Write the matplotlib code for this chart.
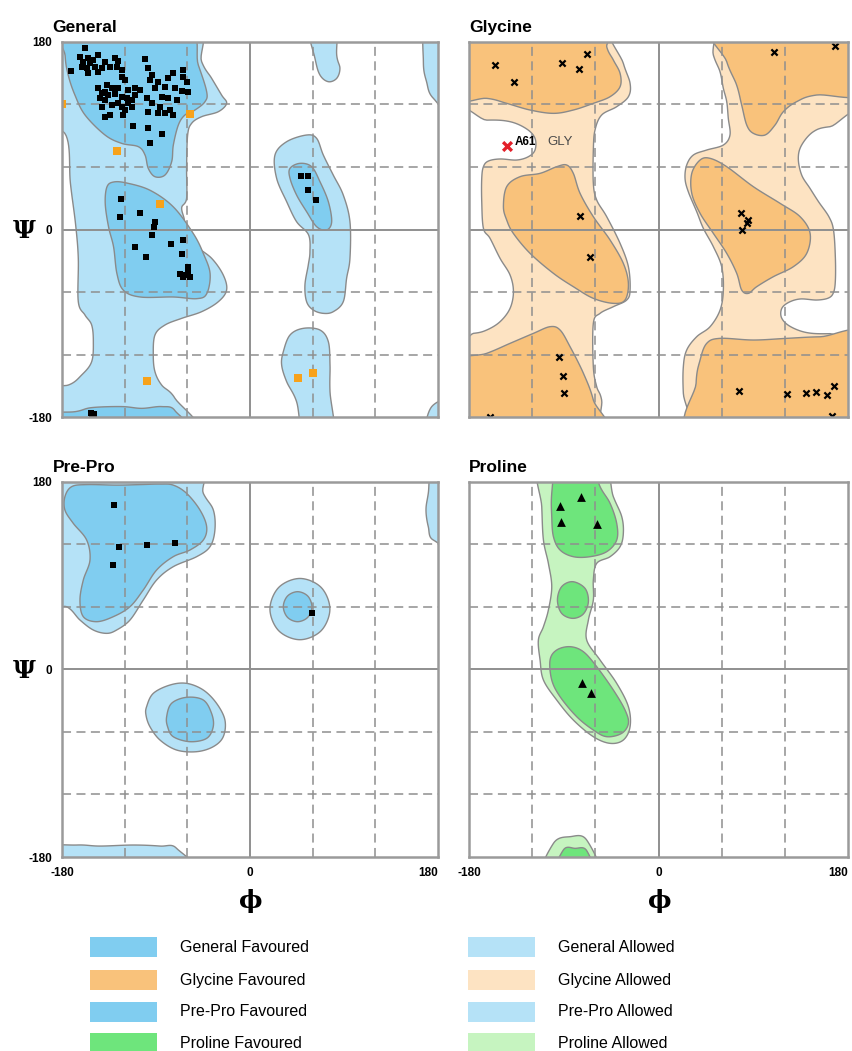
import matplotlib
matplotlib.use("Agg")
import matplotlib.pyplot as plt
import numpy as np
from matplotlib.patches import Polygon, Rectangle

plt.rcParams["font.family"] = ["Liberation Sans", "DejaVu Sans"]

# ---------------------------------------------------------------- colours
GEN_FAV, GEN_ALW = "#80cdf0", "#b5e2f7"
GLY_FAV, GLY_ALW = "#f9c27b", "#fde3c2"
PRO_FAV, PRO_ALW = "#6ee57c", "#c6f4c0"
EDGE = "#8a8a8a"
GRID = "#8f8f8f"

# ---------------------------------------------------------------- residues (phi, psi)
gen_phi = [-158.0, -162.8, -154.8, -145.2, -150.0, -159.6, -153.2, -138.8, -129.3, -126.1,
           -100.5, -161.2, -156.4, -148.4, -142.0, -134.0, -127.7, -122.9, -154.8, -145.2,
           -171.4, -97.4, -63.8, -73.4, -122.9, -119.7, -94.2, -95.8, -78.2, -63.8,
           -87.8, -60.6, -145.2, -137.2, -132.5, -138.8, -126.1, -116.5, -110.1, -105.3,
           -91.0, -81.4, -71.8, -59.1, -65.4, -142.0, -135.6, -129.3, -122.9, -118.1,
           -110.1, -98.9, -84.6, -78.2, -70.2, -143.6, -138.8, -113.3, -142.0, -132.5,
           -122.9, -116.5, -113.3, -86.2, -76.6, -94.2, -119.7, -126.1, -138.8, -134.0,
           -121.3, -97.4, -87.8, -73.4, -81.4, -111.7, -97.4, -84.0, -95.8,
           -123.6, -124.9, -105.1, -86.2, -90.8, -91.8, -94.0, -109.9, -99.7, -75.8,
           -63.7, -65.3, -66.9, -62.1, -58.9, -57.3, -63.7, -58.9,
           48.8, 55.8, 55.8, 63.2, -152.5, -149.0, -151.0]
gen_psi = [173.9, 165.9, 164.3, 167.5, 162.7, 161.1, 159.5, 161.1, 164.3, 161.7,
           163.7, 156.3, 154.7, 156.3, 154.7, 156.3, 156.3, 153.1, 149.9, 151.5,
           152.1, 154.7, 153.1, 149.9, 146.7, 143.5, 148.3, 143.5, 145.1, 146.7,
           141.9, 141.9, 135.5, 138.7, 135.5, 132.3, 135.5, 133.9, 135.5, 133.9,
           135.5, 137.1, 135.5, 132.3, 132.9, 130.7, 129.1, 129.7, 127.5, 125.9,
           129.1, 126.5, 127.5, 125.9, 124.3, 125.9, 124.3, 124.3, 117.9, 119.5,
           117.9, 121.1, 117.9, 117.9, 114.7, 121.1, 114.7, 121.1, 108.3, 109.9,
           109.9, 113.1, 111.5, 109.9, 111.5, 99.7, 97.1, 91.3, 82.7,
           29.6, 12.0, 16.2, 24.5, 7.2, 2.4, -5.0, -16.8, -26.4, -14.2,
           -9.8, -23.2, -42.4, -44.0, -40.8, -45.6, -45.6, -36.0,
           51.4, 51.7, 37.9, 28.3, -176.5, -177.0, -179.5]
gen_allowed_phi = [-179.7, -57.5, -127.0, -86.2, -99.0, 46.2, 60.0]
gen_allowed_psi = [120.1, 110.9, 75.3, 24.5, -145.4, -142.9, -138.1]

gly_phi = [-155.3, -137.2, -91.9, -75.2, -68.2, 110.1, 167.7, -74.5, -65.0, 78.1,
           85.4, 83.8, 79.0, -94.1, -90.4, -89.4, -160.0, 76.8, 122.4, 140.2,
           149.6, 159.8, 166.8, 165.2]
gly_psi = [157.9, 141.9, 160.1, 153.7, 168.1, 170.7, 176.1, 12.9, -26.1, 16.1,
           9.1, 6.5, -0.5, -122.1, -140.7, -157.3, -179.7, -154.7, -158.3, -157.3,
           -155.7, -158.9, -149.9, -179.1]
gly_outlier_phi = [-143.5]
gly_outlier_psi = [80.5]
gly_outlier_res = "A61"
gly_outlier_name = "GLY"

prepro_phi = [-130.0, -125.1, -99.0, -71.9, -130.9, 59.0]
prepro_psi = [157.9, 117.3, 119.5, 121.1, 100.3, 53.9]

pro_phi = [-93.5, -73.6, -92.6, -58.1, -72.6, -64.1]
pro_psi = [157.3, 165.9, 141.9, 139.3, -13.3, -22.3]

# ---------------------------------------------------------------- contour outlines (phi, psi)
general_allowed = [
    [(-180, 180), (-59, 180), (-46.3, 161.1), (-36.7, 145.1), (-27.2, 129.1), (-22.4, 121.1),
     (-30.3, 113.1), (-46.3, 108.3), (-55.9, 101.9), (-59.7, 90.7), (-60.7, 58.7), (-60.7, 29.9),
     (-65.4, 21), (-63, 10), (-62, 0), (-52.7, -14.9), (-36.7, -27.7), (-25.6, -43.7),
     (-22.4, -58.1), (-30.3, -69.3), (-46.3, -78.9), (-65.4, -85.3), (-81.4, -91.7),
     (-91, -101.3), (-92.6, -120.5), (-91, -136.5), (-84.6, -149.3), (-71.8, -162.1),
     (-54.3, -180), (-180, -180), (-180, -154), (-173.9, -149.3), (-161.2, -139.7),
     (-151.6, -126.9), (-150, -107.7), (-151.6, -91.7), (-158, -82.1), (-164.4, -69.3),
     (-164.4, -27.7), (-167, 5), (-172, 45), (-176, 90), (-180, 112)],
    [(180, 180), (169, 180), (166, 161), (169, 142), (175.5, 126), (180, 110)],
    [(180, -180), (170, -180), (174, -170), (180, -163)],
    [(55.8, 180), (62.2, 164.3), (67, 148.3), (75, 141.9), (83, 145.1), (86.1, 154.7),
     (83, 167.5), (81.3, 180)],
    [(30.3, -130.1), (31.9, -117.3), (38.3, -101.3), (51, -94.9), (67, -96.5), (75, -107.7),
     (76.6, -130.1), (76.6, -155.7), (79.7, -180), (52.6, -180), (44.6, -165.3), (35.1, -146.1)],
    [(23.9, 71.5), (35.1, 84.3), (54.2, 90.7), (63.8, 87.5), (70.2, 71.5), (79.7, 52.3),
     (89.3, 33.1), (95.7, 7.5), (95.7, -27.7), (92.5, -46.9), (89.3, -69.3), (79.7, -78.9),
     (70.2, -80.5), (60.6, -77.3), (54.2, -69.3), (52.6, -53.3), (55.8, -34.1), (57.4, -21.3),
     (56, -5), (44.6, 7.5), (35.1, 26.7), (25.5, 49.1)],
]
general_favoured = [
    [(-177, 180), (-177, 167), (-174, 148), (-167.6, 129), (-158, 110), (-138.8, 90.7),
     (-122.9, 82.7), (-106.9, 79.5), (-100.5, 71.5), (-97.4, 58.7), (-91, 50.7), (-81.4, 52.3),
     (-75, 65.1), (-73.4, 81.1), (-68.6, 100.3), (-62.3, 109.9), (-52.7, 114.7), (-43.1, 122.7),
     (-41.5, 132.3), (-49.5, 157.9), (-65, 180)],
    [(-180, -180), (-180, -178), (-167.6, -174.9), (-151.6, -171), (-122.9, -170),
     (-103.7, -171.7), (-84.6, -170), (-71.8, -174), (-63.9, -180)],
    [(-137, 40.8), (-130.6, 45.6), (-117.9, 44.6), (-95.6, 37.6), (-73.3, 21.6), (-54.2, -4),
     (-44.6, -23.2), (-38.2, -42.4), (-41.4, -61.6), (-51, -66.4), (-73.3, -64.8),
     (-105.1, -64.8), (-121.1, -58.4), (-127.4, -42.4), (-130.6, -16.8), (-135.4, 2.4),
     (-138.6, 24.8)],
    [(38.3, 58.7), (47.8, 63.5), (59, 60.3), (67, 45.9), (75, 26.7), (78.2, 7.5), (73.4, -0.5),
     (63.8, 2.7), (54.2, 17.1), (44.6, 33.1), (38.3, 49.1)],
]

glycine_disallowed = [
    [(-180, 102), (-163, 105), (-141, 103.5), (-125.2, 96.5), (-117.3, 87.5), (-117.3, 76.3),
     (-123.6, 69.9), (-134.7, 66.7), (-150.5, 67.7), (-161.6, 65.7), (-166.3, 60.3),
     (-167.9, 49.1), (-167.9, 26.7), (-166.3, 1.1), (-160, -8.5), (-150.5, -27.7),
     (-141, -43.7), (-137.8, -59.7), (-141, -75.7), (-150.5, -88.5), (-163.2, -96.5),
     (-175.8, -99.7), (-180, -100.7)],
    [(-44.4, 180), (-33.4, 159.5), (-27, 140.3), (-28.6, 127.5), (-39.7, 117.9), (-54, 109.9),
     (-60.3, 95.5), (-61.9, 76.3), (-61.9, 44.3), (-58.7, 28.3), (-49.2, 12.3), (-36.5, -13.3),
     (-28.6, -35.7), (-27, -58.1), (-30.2, -67.7), (-42.9, -74.1), (-55.5, -80.5),
     (-61.9, -90.1), (-61.9, -131.7), (-58.7, -150.9), (-54, -163.7), (-49.2, -180),
     (26.8, -180), (23.6, -157.3), (23.6, -131.7), (26.8, -115.7), (36.3, -102.9),
     (49, -93.3), (58.5, -77.3), (61.6, -58.1), (60, -35.7), (52.1, -16.5), (42.6, 1.1),
     (36.3, 17.1), (28.3, 36.3), (25.2, 49.1), (26.8, 61.9), (33.1, 71.5), (45.8, 76.3),
     (61.6, 81.1), (67.9, 90.7), (66.3, 106.7), (64.8, 122.7), (61.6, 135.5), (58.4, 151.5),
     (52.1, 167.5), (44.2, 180)],
    [(180, -98), (163, -100), (141, -99), (125, -93), (117, -85), (117, -76), (123.6, -70),
     (134.7, -66.7), (150.5, -67.7), (161.6, -65.7), (166.3, -60.3), (168, -49), (168, -27),
     (166.3, -1), (162, 12), (152, 26.7), (143.9, 39.5), (136, 52.3), (132.8, 68.3),
     (136, 81.1), (147.1, 93.9), (162.9, 98.7), (180, 100.3)],
]
glycine_favoured = [
    [(-180, 180), (-180, 127.5), (-163.2, 125.9), (-144.2, 121.1), (-122, 114.7),
     (-99.8, 111.5), (-80.9, 114.7), (-61.9, 121.1), (-46, 127.5), (-36.5, 137.1),
     (-36.5, 149.9), (-42.9, 162.7), (-49.2, 175.5), (-52.4, 180)],
    [(-180, -180), (-180, -131.7), (-163.2, -118.9), (-141, -109.3), (-118.8, -99.7),
     (-103, -93.3), (-93.5, -96.5), (-84, -112.5), (-71.3, -138.1), (-61.9, -163.7),
     (-55.5, -180)],
    [(55.3, 180), (64.8, 161.1), (74.2, 138.7), (79, 119.5), (83.8, 100.3), (90.1, 92.3),
     (101.2, 90.7), (110.7, 100.3), (118.6, 113.1), (131.2, 122.7), (150.2, 129.1),
     (180, 132.3), (180, 180)],
    [(36.3, -180), (35.7, -147.7), (39.5, -125.3), (45.8, -109.3), (58.5, -104.5),
     (90.1, -106.1), (121.8, -104.5), (153.5, -103), (180, -103), (180, -180)],
    [(-147.3, 21.9), (-144.2, 41.1), (-131.5, 50.7), (-112.5, 53.9), (-96.7, 60.3),
     (-87.2, 61.9), (-80.9, 53.9), (-74.5, 34.7), (-61.9, 12.3), (-46, -10.1), (-33.4, -32.5),
     (-28.6, -51.7), (-31.8, -67.7), (-42.9, -70.9), (-61.9, -66.1), (-80.9, -54.9),
     (-99.8, -42.1), (-122, -22.9), (-137.9, -3.7), (-144.2, 9.1)],
    [(31.6, 53.9), (39.5, 66.7), (49, 68.3), (64.8, 60.3), (90.1, 41.1), (115.5, 25.1),
     (134.5, 12.3), (144, -3.7), (140.8, -22.9), (128.1, -35.7), (109.1, -45.3), (93.3, -54.9),
     (85.4, -61.3), (79, -58.1), (74.3, -42.1), (64.8, -22.9), (52.1, -3.7), (39.5, 15.5),
     (31.6, 34.7)],
]

prepro_allowed = [
    [(-180, 180), (-57.5, 180), (-44.7, 169.1), (-35.1, 153.1), (-33.6, 133.9), (-38.3, 117.9),
     (-51.1, 108.3), (-73.5, 98.7), (-89.4, 85.9), (-102.2, 66.7), (-114.9, 47.5),
     (-127.7, 37.9), (-137.3, 34.7), (-150, 37.9), (-162.8, 47.5), (-175.6, 60.3), (-180, 66.7)],
    [(-180, -180), (-180, -171.7), (-166, -168.5), (-143.7, -169.5), (-111.8, -168.5),
     (-86.2, -169.5), (-70.3, -171.7), (-57.5, -180)],
    [(180, 180), (175.5, 180), (170.7, 169.1), (168.5, 153.1), (170.7, 137.1), (175.5, 124.3),
     (180, 121.1)],
    [(76.5, 58), (68.1, 78.8), (47.8, 87.4), (27.5, 78.8), (19.1, 58), (27.5, 37.2),
     (47.8, 28.6), (68.1, 37.2)],
    [(-99, -35.7), (-92.6, -22.9), (-76.6, -14.9), (-60.7, -13.3), (-44.7, -19.7), (-32, -32.5),
     (-24, -48.5), (-25.6, -64.5), (-35.2, -74.1), (-51.1, -78.9), (-70.3, -77.3),
     (-86.2, -67.7), (-95.8, -54.9), (-99.6, -43.7)],
]
prepro_favoured = [
    [(-177.2, 165.9), (-170.8, 175.5), (-156.4, 177.5), (-127.7, 177), (-105.4, 177.5),
     (-86.2, 178), (-73.5, 177), (-60.7, 169.1), (-47.9, 153.1), (-41.5, 137.1), (-44.7, 124.3),
     (-57.5, 114.7), (-73.5, 108.3), (-89.4, 95.5), (-102.2, 76.3), (-114.9, 60.3),
     (-130.9, 50.7), (-146.9, 45.9), (-159.6, 50.7), (-162.8, 66.7), (-159.6, 85.9),
     (-153.2, 105.1), (-156.4, 124.3), (-169.2, 140.3), (-177.2, 153.1)],
    [(59.3, 60.3), (55.3, 70.5), (45.6, 74.7), (35.9, 70.5), (31.9, 60.3), (35.9, 50.1),
     (45.6, 45.9), (55.3, 50.1)],
    [(-79.8, -45.3), (-75.1, -32.5), (-60.7, -26.7), (-44.7, -29.3), (-36.8, -42.1),
     (-35.2, -54.9), (-41.5, -66.1), (-57.5, -69.3), (-73.5, -64.5), (-78.9, -54.9)],
]

proline_allowed = [
    [(-112.5, 180), (-55.5, 180), (-42.9, 165.9), (-34.9, 146.7), (-33.4, 130.7),
     (-36.5, 117.9), (-46, 108.3), (-58.7, 101.9), (-61.9, 85.9), (-61.9, 66.7), (-66.6, 47.5),
     (-68.2, 28.3), (-55.5, 9.1), (-39.7, -13.3), (-28.6, -35.7), (-27, -54.9), (-33.4, -67.7),
     (-46, -70.9), (-61.9, -64.5), (-80.9, -48.5), (-96.7, -29.3), (-109.3, -10.1),
     (-112.5, 9.1), (-114.1, 28.3), (-109.3, 41.1), (-104.6, 57.1), (-101.4, 79.5),
     (-104.6, 101.9), (-109.3, 124.3), (-110.9, 156.3)],
    [(-109.3, -180), (-99.8, -166.9), (-84, -160.5), (-68.2, -163.7), (-57.1, -180)],
]
proline_favoured = [
    [(-101.4, 169.1), (-96.7, 180), (-84, 180), (-65, 180), (-55.5, 175.5), (-46, 159.5),
     (-39.7, 140.3), (-39.7, 124.3), (-49.2, 113.1), (-65, 108.3), (-80.9, 108.3),
     (-93.5, 114.7), (-99.8, 127.5), (-101.4, 146.7)],
    [(-96, 66.7), (-92, 79.5), (-81.5, 84.3), (-69.8, 77.9), (-66.6, 65.1), (-71.4, 53.3),
     (-81.5, 49.1), (-92, 53.9)],
    [(-103, 9.1), (-96.7, 18.7), (-84, 21.9), (-71.4, 17.1), (-58.7, 2.7), (-42.9, -19.7),
     (-31.8, -38.9), (-28.6, -51.7), (-35, -61.3), (-49.2, -64.5), (-61.9, -58.1),
     (-77.7, -45.3), (-93.5, -26.1), (-101.4, -10.1)],
    [(-98.3, -180), (-90.4, -173.3), (-79.3, -171.7), (-68.2, -173.9), (-61.9, -180)],
]

legend_favoured = ["General Favoured", "Glycine Favoured", "Pre-Pro Favoured", "Proline Favoured"]
legend_allowed = ["General Allowed", "Glycine Allowed", "Pre-Pro Allowed", "Proline Allowed"]
legend_fav_colors = [GEN_FAV, GLY_FAV, GEN_FAV, PRO_FAV]
legend_alw_colors = [GEN_ALW, GLY_ALW, GEN_ALW, PRO_ALW]


def smooth_closed(verts, n=12):
    """Closed Catmull-Rom curve; points on the frame are pushed outside so the fill reaches it."""
    p = np.asarray(verts, dtype=float)
    p = np.where(p >= 179.5, 200.0, np.where(p <= -179.5, -200.0, p))
    t = np.linspace(0, 1, n, endpoint=False)[:, None]
    out = []
    for i in range(len(p)):
        p0, p1, p2, p3 = p[i - 1], p[i], p[(i + 1) % len(p)], p[(i + 2) % len(p)]
        out.append(0.5 * (2 * p1 + (p2 - p0) * t + (2 * p0 - 5 * p1 + 4 * p2 - p3) * t ** 2
                          + (3 * p1 - p0 - 3 * p2 + p3) * t ** 3))
    return np.vstack(out)


def draw_regions(ax, shapes, face, zorder):
    for verts in shapes:
        ax.add_patch(Polygon(smooth_closed(verts), closed=True, facecolor=face,
                             edgecolor=EDGE, lw=1.0, zorder=zorder))


def setup_axes(ax, title, title_dx, show_x, show_y):
    ax.set_xlim(-180, 180)
    ax.set_ylim(-180, 180)
    for v in (-120, -60, 60, 120):
        ax.axvline(v, color=GRID, lw=1.3, ls=(0, (5, 3)), alpha=0.85, zorder=3)
        ax.axhline(v, color=GRID, lw=1.3, ls=(0, (5, 3)), alpha=0.85, zorder=3)
    ax.axvline(0, color=GRID, lw=1.4, zorder=3)
    ax.axhline(0, color=GRID, lw=1.4, zorder=3)
    for sp in ax.spines.values():
        sp.set_color("#9a9a9a")
        sp.set_linewidth(1.8)
        sp.set_zorder(6)
    ax.set_xticks([-180, 0, 180])
    ax.set_yticks([-180, 0, 180])
    ax.tick_params(length=0, labelsize=8.5, pad=7)
    ax.set_xticklabels(["-180", "0", "180"] if show_x else [], fontweight="bold")
    ax.set_yticklabels(["-180", "0", "180"] if show_y else [], fontweight="bold")
    if show_x:
        ax.get_xticklabels()[-1].set_ha("right")
    ax.text(title_dx, 1.027, title, transform=ax.transAxes, fontsize=12.5,
            fontweight="bold", ha="left", va="baseline")
    if show_y:
        ax.text(-0.10, 0.496, "Ψ", transform=ax.transAxes, fontsize=18, fontweight="bold",
                family="DejaVu Serif", ha="center", va="center")
    if show_x:
        ax.text(0.502, -0.118, "ϕ", transform=ax.transAxes, fontsize=18, fontweight="bold",
                family="DejaVu Serif", ha="center", va="center")


fig = plt.figure(figsize=(8.52, 10.51), dpi=100)
W, H = 852, 1051
ax_gen = fig.add_axes([62 / W, 1 - 417 / H, 376 / W, 375 / H])
ax_gly = fig.add_axes([469 / W, 1 - 417 / H, 379 / W, 375 / H])
ax_pre = fig.add_axes([62 / W, 1 - 857 / H, 376 / W, 375 / H])
ax_pro = fig.add_axes([469 / W, 1 - 857 / H, 379 / W, 375 / H])

# General
draw_regions(ax_gen, general_allowed, GEN_ALW, 1)
draw_regions(ax_gen, general_favoured, GEN_FAV, 2)
setup_axes(ax_gen, "General", -0.027, False, True)
ax_gen.scatter(gen_phi, gen_psi, marker="s", s=14, color="black", lw=0, zorder=5)
ax_gen.scatter(gen_allowed_phi, gen_allowed_psi, marker="s", s=30, color="#f7a21b", lw=0, zorder=6)

# Glycine
ax_gly.set_facecolor(GLY_ALW)
draw_regions(ax_gly, glycine_disallowed, "white", 1)
draw_regions(ax_gly, glycine_favoured, GLY_FAV, 2)
setup_axes(ax_gly, "Glycine", 0.0, False, False)
ax_gly.scatter(gly_phi, gly_psi, marker="x", s=20, color="black", lw=1.6, zorder=5)
ax_gly.scatter(gly_outlier_phi, gly_outlier_psi, marker="x", s=40, color="#e3202a", lw=2.4, zorder=6)
ax_gly.text(gly_outlier_phi[0] + 7, gly_outlier_psi[0] + 3.5, gly_outlier_res, fontsize=8.5,
            fontweight="bold", color="black", ha="left", va="center", zorder=7)
ax_gly.text(gly_outlier_phi[0] + 38, gly_outlier_psi[0] + 3.5, gly_outlier_name, fontsize=9.5,
            color="#4a4a4a", ha="left", va="center", zorder=7)

# Pre-Pro
draw_regions(ax_pre, prepro_allowed, GEN_ALW, 1)
draw_regions(ax_pre, prepro_favoured, GEN_FAV, 2)
setup_axes(ax_pre, "Pre-Pro", -0.024, True, True)
ax_pre.scatter(prepro_phi, prepro_psi, marker="s", s=14, color="black", lw=0, zorder=5)

# Proline
draw_regions(ax_pro, proline_allowed, PRO_ALW, 1)
draw_regions(ax_pro, proline_favoured, PRO_FAV, 2)
setup_axes(ax_pro, "Proline", 0.0, True, False)
ax_pro.scatter(pro_phi, pro_psi, marker="^", s=40, color="black", lw=0, zorder=5)

# legend
row_y = [947, 980, 1012, 1043]
for col_x, labels, colors in ((90, legend_favoured, legend_fav_colors),
                              (468, legend_allowed, legend_alw_colors)):
    for yc, lab, c in zip(row_y, labels, colors):
        fig.add_artist(Rectangle((col_x / W, 1 - (yc + 10) / H), 67 / W, 20 / H,
                                 transform=fig.transFigure, facecolor=c, edgecolor="none"))
        fig.text((col_x + 90) / W, 1 - yc / H, lab, fontsize=11.5, ha="left", va="center")

fig.savefig("out.png", dpi=100)
